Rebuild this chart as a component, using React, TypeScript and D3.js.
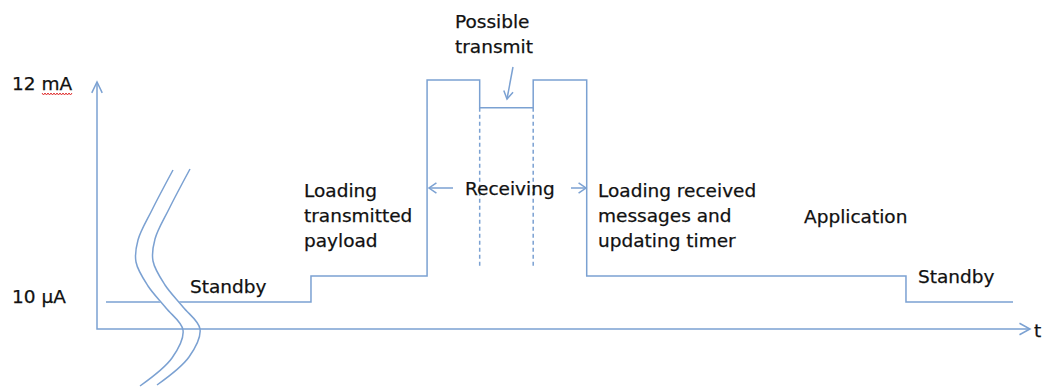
import * as d3 from 'd3';

// phase boundaries along the time axis (arbitrary units) and current level of each phase
const phaseTimes = [0, 22.6, 35.4, 41.2, 47.1, 53.0, 88.2, 100];
const phaseLevels = [0, 1.4, 12, 10.5, 12, 1.4, 0];
const phaseNames = ['Standby', 'Loading payload', 'Receiving', 'Possible transmit', 'Receiving', 'Application', 'Standby'];
const tickLabels = ['12 mA', '10 µA'];
const dashTimes = [41.2, 47.1];

// axis break (two wavy lines)
const breakA: [number, number][] = [
  [173, 170], [152, 210], [138, 240], [136, 262], [148, 286], [166, 308], [183, 330], [172, 358], [140, 386],
];
const breakB: [number, number][] = breakA.map(([x, y]) => [x + 17, y - 1]);

const W = 1044;
const H = 387;
const BLUE = '#7ba1d2';
const INK = '#111';
const FONT = '"DejaVu Sans", Verdana, sans-serif';

const App = () => {
  const x = d3.scaleLinear().domain([0, 100]).range([106, 1013]);
  const y = d3.scaleLinear().domain([0, 12]).range([302, 80]);

  const stepPts: [number, number][] = phaseLevels.map((lv, i) => [phaseTimes[i], lv]);
  stepPts.push([phaseTimes[phaseTimes.length - 1], phaseLevels[phaseLevels.length - 1]]);
  const stepLine = d3
    .line<[number, number]>()
    .x((d) => x(d[0]))
    .y((d) => y(d[1]))
    .curve(d3.curveStepAfter);

  const wave = d3.line().curve(d3.curveCatmullRom.alpha(0.5));
  const band: [number, number][] = breakA.map(([px, py], i) => [(px + breakB[i][0]) / 2, (py + breakB[i][1]) / 2]);

  // axes
  const ox = 97;
  const oy = 329;
  const yTop = 82;
  const xEnd = 1030;

  // red spell-check squiggle under "mA"
  const squig: [number, number][] = [];
  for (let i = 0; i <= 20; i++) squig.push([42 + i * 1.5, 93 + (i % 2 === 0 ? 0 : 2)]);

  const arrowHead = (tx: number, ty: number, ang: number, len = 9, spread = 0.55) => {
    const a1 = ang + Math.PI - spread;
    const a2 = ang + Math.PI + spread;
    return `M${tx + len * Math.cos(a1)},${ty + len * Math.sin(a1)}L${tx},${ty}L${tx + len * Math.cos(a2)},${ty + len * Math.sin(a2)}`;
  };

  const ptAng = Math.atan2(99 - 67, 507 - 513);

  const text = (t: string, px: number, py: number) => (
    <text x={px} y={py} fill={INK} stroke={INK} strokeWidth={0.25} fontSize={18.5} fontFamily={FONT}>
      {t}
    </text>
  );

  return (
    <svg width={W} height={H} style={{ position: 'absolute', left: 0, top: 0, background: '#fff' }}>
      <g fill="none" stroke={BLUE} strokeWidth={1.5}>
        {/* current profile */}
        <path d={stepLine(stepPts) || ''} data-phases={phaseNames.join('|')} />
        {/* dashed boundaries of the possible transmit window */}
        {dashTimes.map((t) => (
          <line key={t} x1={x(t)} x2={x(t)} y1={y(10.5)} y2={y(1.8)} strokeDasharray="4,3" strokeWidth={1.5} />
        ))}
        {/* break gap */}
        <path d={wave(band) || ''} stroke="#fff" strokeWidth={15} />
        <path d={wave(breakA) || ''} />
        <path d={wave(breakB) || ''} />
        {/* axes */}
        <path d={`M${ox},${yTop}L${ox},${oy}L${xEnd},${oy}`} />
        <path d={arrowHead(ox, yTop, -Math.PI / 2, 12, 0.45)} />
        <path d={arrowHead(xEnd, oy, 0, 12, 0.5)} />
        {/* receiving arrows */}
        <line x1={453} x2={429} y1={188} y2={188} />
        <path d={arrowHead(429, 188, Math.PI, 9, 0.6)} />
        <line x1={571} x2={586} y1={188} y2={188} />
        <path d={arrowHead(586, 188, 0, 9, 0.6)} />
        {/* possible transmit pointer */}
        <line x1={513} y1={67} x2={507} y2={99} />
        <path d={arrowHead(507, 99, ptAng, 9, 0.55)} />
      </g>
      <path d={d3.line()(squig) || ''} fill="none" stroke="#e03030" strokeWidth={1} />

      {text(tickLabels[0], 12, 90)}
      {text(tickLabels[1], 12, 303)}
      {text('Standby', 190, 293)}
      {text('Loading', 304, 197)}
      {text('transmitted', 304, 222)}
      {text('payload', 304, 247)}
      {text('Possible', 455, 28)}
      {text('transmit', 455, 53)}
      {text('Receiving', 465, 195)}
      {text('Loading received', 598, 197)}
      {text('messages and', 598, 222)}
      {text('updating timer', 598, 247)}
      {text('Application', 804, 223)}
      {text('Standby', 918, 283)}
      {text('t', 1034, 337)}
    </svg>
  );
};

export default App;
